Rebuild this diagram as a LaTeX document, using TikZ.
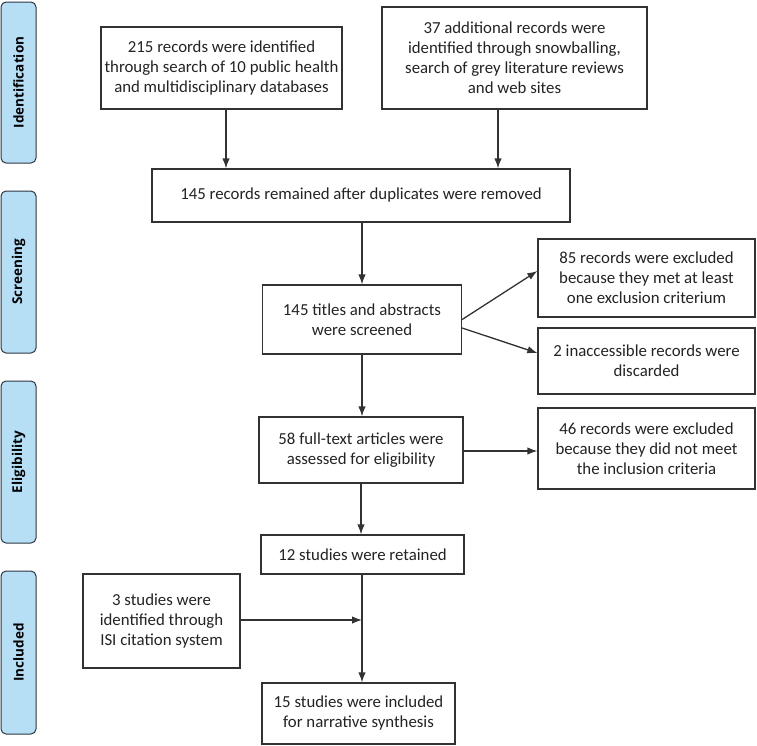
\documentclass[tikz,border=0pt]{standalone}
\usepackage{fontspec}
\setmainfont{Carlito}
\newfontfamily\phasefont{Open Sans}
\usetikzlibrary{arrows,arrows.meta}

\definecolor{phasefill}{RGB}{182,223,246}
\definecolor{phaseline}{RGB}{45,55,65}
\definecolor{boxline}{RGB}{50,50,50}
\definecolor{boxtext}{RGB}{35,35,35}

\tikzset{
  rec/.style={draw=boxline, line width=1.3pt, fill=white, align=center, text=boxtext,
    inner sep=2pt, font=\fontsize{16.8}{20}\selectfont},
  phase/.style={draw=phaseline, line width=1pt, fill=phasefill, rounded corners=5pt,
    rotate=90, minimum height=35pt, inner sep=0pt, font=\phasefont\bfseries\fontsize{13.5}{15}\selectfont}
}

\begin{document}
\begin{tikzpicture}[x=1pt, y=-1pt, >={Latex[length=10pt,width=7.5pt]}, line width=1.3pt]
  \useasboundingbox (0,0) rectangle (757,745);

  \node[phase, minimum width=161pt] (lblid)   at (18.5,82.5)  {Identification};
  \node[phase, minimum width=162pt] (lblscr)  at (18.5,272)   {Screening};
  \node[phase, minimum width=162pt] (lblelig) at (18.5,462)   {Eligibility};
  \node[phase, minimum width=163pt] (lblinc)  at (18.5,652.5) {Included};

  \node[rec, minimum width=241pt, minimum height=82pt]  (db)      at (221.5,68)  {215 records were identified\\through search of 10 public health\\and multidisciplinary databases};
  \node[rec, minimum width=265pt, minimum height=102pt] (snow)    at (514.5,58)  {37 additional records were\\identified through snowballing,\\search of grey literature reviews\\and web sites};
  \node[rec, minimum width=418pt, minimum height=53pt]  (dedup)   at (361,195.5) {145 records remained after duplicates were removed};
  \node[rec, minimum width=199pt, minimum height=69pt]  (screen)  at (362,319.5) {145 titles and abstracts\\were screened};
  \node[rec, minimum width=217pt, minimum height=78pt]  (excl)    at (646.5,278) {85 records were excluded\\because they met at least\\one exclusion criterium};
  \node[rec, minimum width=217pt, minimum height=66pt]  (discard) at (646.5,361) {2 inaccessible records were\\discarded};
  \node[rec, minimum width=204pt, minimum height=66pt]  (full)    at (361,450)   {58 full-text articles were\\assessed for eligibility};
  \node[rec, minimum width=217pt, minimum height=81pt]  (notmeet) at (646.5,448.5) {46 records were excluded\\because they did not meet\\the inclusion criteria};
  \node[rec, minimum width=203pt, minimum height=39pt]  (retain)  at (362.5,554.5) {12 studies were retained};
  \node[rec, minimum width=157pt, minimum height=94pt]  (isi)     at (161.5,621) {3 studies were\\identified through\\ISI citation system};
  \node[rec, minimum width=193pt, minimum height=61pt]  (final)   at (358.5,713.5) {15 studies were included\\for narrative synthesis};

  \coordinate (join) at (362,620);

  \path[->, every edge/.style={draw=boxline, line width=1.3pt}]
  ([xshift=4.5pt]db.south) edge ([xshift=4.5pt]db.south |- dedup.north)
  ([xshift=-16.5pt]snow.south) edge ([xshift=-16.5pt]snow.south |- dedup.north)
  (screen.north |- dedup.south) edge (screen.north)
  (screen.east) edge ([yshift=7pt]excl.west)
  ([yshift=-8.5pt]screen.east) edge ([yshift=8pt]discard.west)
  (screen.south) edge (screen.south |- full.north)
  ([yshift=-1pt]full.east) edge ([yshift=-1pt]full.east -| notmeet.west)
  (full.south) edge (full.south |- retain.north)
  (isi.east |- join) edge (join)
  (join |- retain.south) edge (join |- final.north)
  ;
\end{tikzpicture}
\end{document}
